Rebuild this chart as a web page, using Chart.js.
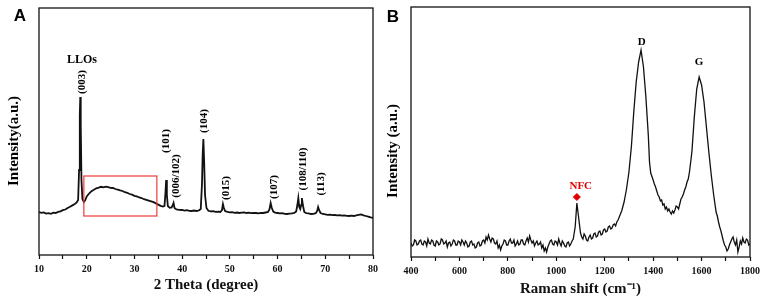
<!DOCTYPE html>
<html>
<head>
<meta charset="utf-8">
<script src="https://cdn.jsdelivr.net/npm/chart.js@4/dist/chart.umd.min.js"></script>
<style>
  html, body { margin: 0; padding: 0; background: #fff; }
  #wrap { position: relative; width: 765px; height: 302px; }
  canvas { position: absolute; top: 0; }
</style>
</head>
<body>
<div id="wrap">
  <canvas id="xrd" width="382" height="302" style="left:0"></canvas>
  <canvas id="raman" width="383" height="302" style="left:382px"></canvas>
</div>
<script>
// ---- panel A: XRD pattern (2 theta in degree, intensity a.u.) ----
const xrdTheta = [
  10.0, 10.5, 11.0, 11.5, 12.0, 12.5, 13.0, 13.5, 14.0, 14.5, 15.0, 15.5, 16.0, 16.5, 17.0, 17.5, 17.9,
  18.2, 18.4, 18.55, 18.65, 18.75, 18.9, 19.1, 19.4, 19.7,
  20.0, 20.5, 21.0, 21.5, 22.0, 22.5, 23.0, 23.5, 24.0, 24.5, 25.0, 25.5, 26.0, 26.5, 27.0, 27.5,
  28.0, 28.5, 29.0, 29.5, 30.0, 30.5, 31.0, 31.5, 32.0, 32.5, 33.0, 33.5, 34.0, 34.5, 35.0, 35.5, 36.0,
  36.3, 36.5, 36.65, 36.8, 37.0, 37.4, 37.8, 38.05, 38.2, 38.4, 38.8, 39.4,
  40.0, 40.5, 41.0, 41.5, 42.0, 42.5, 43.0, 43.5, 43.9, 44.15, 44.3, 44.45, 44.6, 44.8, 45.1, 45.5,
  46.0, 46.5, 47.0, 47.5, 48.0, 48.35, 48.55, 48.75, 49.0, 49.5,
  50.0, 50.5, 51.0, 51.5, 52.0, 52.5, 53.0, 53.5, 54.0, 54.5, 55.0, 55.5, 56.0, 56.5, 57.0, 57.5,
  58.0, 58.3, 58.55, 58.8, 59.1, 59.5, 60.0, 60.5, 61.0, 61.5, 62.0, 62.5, 63.0, 63.5, 63.9,
  64.15, 64.35, 64.55, 64.75, 64.95, 65.1, 65.3, 65.6, 66.0, 66.5, 67.0, 67.5, 68.0, 68.3, 68.5, 68.7,
  69.0, 69.5, 70.0, 70.5, 71.0, 71.5, 72.0, 72.5, 73.0, 73.5, 74.0, 74.5, 75.0, 75.5, 76.0, 76.5,
  77.0, 77.5, 78.0, 78.5, 79.0, 79.5, 80.0
];
const xrdIntensity = [
  43, 42.2, 42.6, 41.4, 41.8, 41.2, 42.3, 42.0, 43.1, 43.6, 44.8, 45.5, 47.0, 48.2, 49.6, 51.0, 52.5,
  55, 85, 140, 158, 130, 75, 56, 53, 55,
  58.5, 61.5, 63.8, 65.2, 66.7, 67.4, 68.2, 67.6, 68.4, 67.8, 67.2, 67.0, 66.0, 65.4, 64.6, 64.0,
  62.8, 62.2, 61.0, 60.4, 59.2, 58.6, 57.5, 57.0, 55.8, 55.2, 54.4, 53.6, 52.8, 51.6, 50.4, 49.2, 48.4,
  49, 62, 75, 60, 49, 47.2, 47.6, 50, 52, 47, 45.6, 45.2,
  45.0, 44.4, 44.8, 44.2, 44.0, 44.5, 44.0, 44.6, 46, 70, 100, 116, 95, 60, 47, 44.2,
  43.6, 43.8, 43.2, 43.4, 43.0, 45, 51, 47, 44, 43.2,
  42.6, 42.8, 42.2, 42.5, 42.0, 42.4, 42.6, 42.0, 42.3, 41.8, 42.2, 42.0, 41.7, 42.2, 42.0, 42.5,
  43.0, 45.5, 52, 47, 43.5, 42.4, 42.0, 41.6, 41.8, 41.2, 41.0, 41.4, 41.6, 42.0, 43.5,
  50, 57, 48, 46, 50, 57, 50, 43, 41.8, 41.6, 41.0, 41.2, 41.8, 44, 48, 45,
  42, 41, 40.6, 40.2, 40.4, 39.8, 40.0, 39.6, 39.8, 39.4, 39.6, 39.2, 39.0, 39.3, 39.0, 39.6,
  40.2, 40.6, 39.6, 39.0, 38.4, 37.6, 37.0
];
const xrdTickStep = 5;
const xrdLabelStep = 10;
const xrdPeaks = [
  { text: '(003)', x: 18.95, y: 173 },
  { text: '(101)', x: 36.75, y: 114 },
  { text: '(006/102)', x: 38.7, y: 79 },
  { text: '(104)', x: 44.6, y: 134 },
  { text: '(015)', x: 49.2, y: 67 },
  { text: '(107)', x: 59.3, y: 68 },
  { text: '(108/110)', x: 65.3, y: 86 },
  { text: '(113)', x: 69.1, y: 71 }
];

// ---- panel B: Raman spectrum ----
const ramanShift = [
  400, 405, 410, 415, 420, 425, 430, 435, 440, 445,
  450, 455, 460, 465, 470, 475, 480, 485, 490, 495,
  500, 505, 510, 515, 520, 525, 530, 535, 540, 545,
  550, 555, 560, 565, 570, 575, 580, 585, 590, 595,
  600, 605, 610, 615, 620, 625, 630, 635, 640, 645,
  650, 655, 660, 665, 670, 675, 680, 685, 690, 695,
  700, 705, 710, 715, 720, 725, 730, 735, 740, 745,
  750, 755, 760, 765, 770, 775, 780, 785, 790, 795,
  800, 805, 810, 815, 820, 825, 830, 835, 840, 845,
  850, 855, 860, 865, 870, 875, 880, 885, 890, 895,
  900, 905, 910, 915, 920, 925, 930, 935, 940, 945,
  950, 955, 960, 965, 970, 975, 980, 985, 990, 995,
  1000, 1005, 1010, 1015, 1020, 1025, 1030, 1035, 1040, 1045,
  1050, 1055, 1060, 1065, 1070, 1078, 1085, 1092, 1100, 1105,
  1110, 1115, 1120, 1125, 1130, 1135, 1140, 1145, 1150, 1155,
  1160, 1165, 1170, 1175, 1180, 1185, 1190, 1195, 1200, 1205,
  1210, 1215, 1220, 1225, 1230, 1235, 1240, 1245, 1250, 1255,
  1260, 1270, 1280, 1290, 1300, 1310, 1320, 1330, 1340, 1350,
  1360, 1370, 1380, 1385, 1390, 1400, 1405, 1410, 1415, 1420,
  1425, 1430, 1435, 1440, 1445, 1450, 1455, 1460, 1465, 1470,
  1475, 1480, 1485, 1490, 1495, 1500, 1505, 1510, 1515, 1520,
  1525, 1530, 1535, 1540, 1545, 1550, 1560, 1570, 1580, 1590,
  1600, 1610, 1620, 1630, 1640, 1650, 1660, 1665, 1670, 1675,
  1680, 1685, 1690, 1695, 1700, 1705, 1710, 1715, 1720, 1725,
  1730, 1735, 1740, 1745, 1750, 1755, 1760, 1765, 1770, 1775,
  1780, 1785, 1790, 1795, 1800
];
const ramanIntensity = [
  14, 11, 12, 17, 16, 12, 13, 16, 17, 13,
  12, 16, 15, 11, 18, 14, 13, 17, 16, 12,
  11, 16, 15, 12, 13, 18, 17, 13, 14, 16,
  10, 14, 15, 11, 13, 17, 16, 12, 12, 16,
  15, 12, 17, 15, 12, 16, 14, 10, 11, 15,
  16, 12, 13, 9, 10, 14, 15, 11, 12, 16,
  17, 14, 20, 17, 22, 18, 15, 19, 18, 14,
  13, 16, 9, 12, 7, 11, 13, 17, 16, 12,
  12, 16, 18, 14, 14, 17, 11, 13, 16, 12,
  13, 17, 17, 13, 12, 16, 19, 15, 21, 17,
  14, 16, 11, 14, 16, 12, 13, 15, 9, 12,
  6, 9, 5, 10, 13, 16, 17, 13, 12, 16,
  15, 12, 18, 14, 11, 16, 14, 11, 10, 14,
  15, 11, 13, 16, 18, 30, 54, 40, 24, 20,
  18, 23, 21, 17, 16, 20, 22, 18, 19, 23,
  24, 20, 21, 25, 26, 22, 23, 27, 28, 25,
  26, 30, 31, 28, 29, 32, 33, 31, 35, 37,
  40, 46, 55, 68, 85, 110, 145, 175, 195, 207,
  190, 160, 122, 95, 84, 77, 73, 70, 66, 62,
  60, 56, 57, 52, 53, 48, 50, 46, 48, 45,
  43, 46, 44, 47, 51, 50, 48, 53, 58, 60,
  63, 67, 70, 75, 78, 85, 105, 140, 168, 180,
  172, 155, 130, 105, 82, 62, 45, 41, 35, 30,
  26, 21, 16, 12, 10, 6, 8, 12, 15, 18,
  20, 15, 12, 17, 5, 10, 16, 13, 19, 15,
  14, 18, 17, 12, 13
];
const nfcMark = [{ x: 1085, y: 60 }];
const ramanTickStep = 100;
const ramanLabelStep = 200;
const ramanPeaks = [
  { text: 'D', x: 1353, y: 215, color: '#000' },
  { text: 'G', x: 1589, y: 195, color: '#000' },
  { text: 'NFC', x: 1101, y: 71, color: '#e00000' }
];

const serif = "'Liberation Serif', 'Times New Roman', serif";

const decor = {
  id: 'decor',
  afterDraw(chart, args, o) {
    const { ctx, chartArea: a, scales } = chart;
    const sx = scales.x, sy = scales.y;
    ctx.save();
    // frame
    ctx.strokeStyle = '#111';
    ctx.lineWidth = 1.3;
    ctx.strokeRect(a.left, a.top, a.right - a.left, a.bottom - a.top);
    // red box
    if (o.box) {
      const x1 = sx.getPixelForValue(o.box[0]), x2 = sx.getPixelForValue(o.box[1]);
      const y1 = sy.getPixelForValue(o.box[2]), y2 = sy.getPixelForValue(o.box[3]);
      ctx.strokeStyle = '#ee3a3a';
      ctx.lineWidth = 1.2;
      ctx.strokeRect(x1, y2, x2 - x1, y1 - y2);
    }
    ctx.textAlign = 'center';
    ctx.textBaseline = 'middle';
    // vertical peak labels
    ctx.fillStyle = '#000';
    ctx.font = 'bold 11px ' + serif;
    (o.vlabels || []).forEach(p => {
      ctx.save();
      ctx.translate(sx.getPixelForValue(p.x), sy.getPixelForValue(p.y));
      ctx.rotate(-Math.PI / 2);
      ctx.fillText(p.text, 0, 0);
      ctx.restore();
    });
    // horizontal labels
    (o.hlabels || []).forEach(p => {
      ctx.font = 'bold ' + (p.size || 11) + 'px ' + serif;
      ctx.fillStyle = p.color || '#000';
      ctx.fillText(p.text, sx.getPixelForValue(p.x), sy.getPixelForValue(p.y));
    });
    // y axis title
    ctx.fillStyle = '#000';
    ctx.font = 'bold 15px ' + serif;
    ctx.save();
    ctx.translate(o.yTitle.x, o.yTitle.y);
    ctx.rotate(-Math.PI / 2);
    ctx.fillText(o.yTitle.text, 0, 0);
    ctx.restore();
    // panel letter
    ctx.font = "bold 17px 'Liberation Sans', Arial, sans-serif";
    ctx.fillText(o.letter.text, o.letter.x, o.letter.y);
    ctx.restore();
  }
};

function makeOptions(xmin, xmax, step, labelStep, ymax, xTitle, titlePad, yWidth, xHeight, pad, deco) {
  return {
    responsive: false,
    animation: false,
    layout: { padding: pad },
    plugins: { legend: { display: false }, tooltip: { enabled: false }, decor: deco },
    scales: {
      x: {
        type: 'linear', min: xmin, max: xmax,
        border: { display: false },
        grid: { drawOnChartArea: false, drawTicks: true, tickLength: 4, color: '#111', tickWidth: 1.2 },
        ticks: {
          stepSize: step, padding: 4, color: '#111', maxRotation: 0, autoSkip: false,
          font: { family: serif, size: 10, weight: 'bold' },
          callback: v => (v % labelStep === 0 ? v : '')
        },
        title: {
          display: true, text: xTitle, color: '#111',
          font: { family: serif, size: 15, weight: 'bold' },
          padding: { top: 0, bottom: titlePad }
        },
        afterFit: s => { s.height = xHeight; }
      },
      y: {
        min: 0, max: ymax,
        border: { display: false },
        grid: { display: false },
        ticks: { display: false },
        afterFit: s => { s.width = yWidth; }
      }
    }
  };
}

new Chart(document.getElementById('xrd'), {
  type: 'scatter',
  plugins: [decor],
  data: {
    datasets: [{
      data: xrdTheta.map((t, i) => ({ x: t, y: xrdIntensity[i] })),
      showLine: true, borderColor: '#111', borderWidth: 1.8, pointRadius: 0, tension: 0
    }]
  },
  options: makeOptions(10, 80, xrdTickStep, xrdLabelStep, 247, '2 Theta (degree)', 8, 39, 47,
    { top: 8, right: 9, left: 0, bottom: 0 },
    {
      box: [19.4, 34.7, 39, 79],
      vlabels: xrdPeaks,
      hlabels: [{ text: 'LLOs', x: 19.0, y: 195, size: 12 }],
      yTitle: { text: 'Intensity(a.u.)', x: 14, y: 141 },
      letter: { text: 'A', x: 20, y: 16 }
    })
});

new Chart(document.getElementById('raman'), {
  type: 'scatter',
  plugins: [decor],
  data: {
    datasets: [{
      data: ramanShift.map((s, i) => ({ x: s, y: ramanIntensity[i] })),
      showLine: true, borderColor: '#111', borderWidth: 1.3, pointRadius: 0, tension: 0
    }, {
      data: nfcMark,
      pointStyle: 'rectRot', pointRadius: 3.5, backgroundColor: '#e00000', borderColor: '#e00000'
    }]
  },
  options: makeOptions(400, 1800, ramanTickStep, ramanLabelStep, 250, 'Raman shift (cm\u207B\u00B9)', 4, 29, 45,
    { top: 7, right: 15, left: 0, bottom: 0 },
    {
      hlabels: ramanPeaks,
      yTitle: { text: 'Intensity (a.u.)', x: 11, y: 151 },
      letter: { text: 'B', x: 11, y: 17 }
    })
});
</script>
</body>
</html>
